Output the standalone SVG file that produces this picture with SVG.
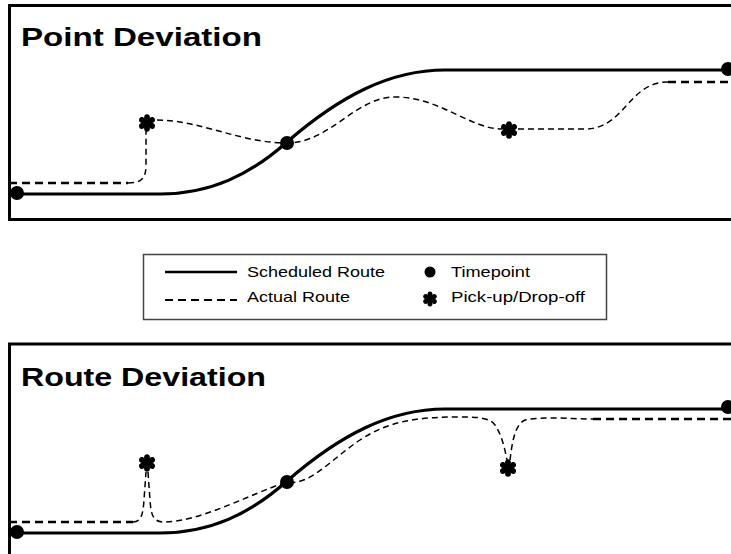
<svg xmlns="http://www.w3.org/2000/svg" width="731" height="554" viewBox="0 0 731 554">
<style>
.frame{fill:none;stroke:#000;stroke-width:3}
.title{font-family:"Liberation Sans",Arial,sans-serif;font-weight:bold;font-size:26px;fill:#000}
.leg{font-family:"Liberation Sans",Arial,sans-serif;font-size:14.5px;fill:#000}
.sched{fill:none;stroke:#000;stroke-width:3.2}
.act{fill:none;stroke:#000;stroke-width:1.5;stroke-dasharray:6 4}
.actb{fill:none;stroke:#000;stroke-width:2.5;stroke-dasharray:8 5}
.tp{fill:#000}
</style>
<defs>
<path id="petal" d="M0,0 C-3.8,-3.5 -4,-8.6 0,-8.8 C4,-8.6 3.8,-3.5 0,0 Z"/>
<g id="star">
<use href="#petal"/>
<use href="#petal" transform="rotate(60)"/>
<use href="#petal" transform="rotate(120)"/>
<use href="#petal" transform="rotate(180)"/>
<use href="#petal" transform="rotate(240)"/>
<use href="#petal" transform="rotate(300)"/>
<circle r="1.8"/>
</g>
</defs>
<rect width="731" height="554" fill="#fff"/>

<g id="point-deviation">
<rect class="frame" x="9.5" y="5.5" width="740" height="214"/>
<text class="title" x="21" y="46" textLength="241" lengthAdjust="spacingAndGlyphs">Point Deviation</text>
</g>
<g id="route-deviation">
<rect class="frame" x="9.5" y="344" width="740" height="260"/>
<text class="title" x="21" y="386" textLength="245" lengthAdjust="spacingAndGlyphs">Route Deviation</text>
</g>

<g id="connectors">
<!-- top panel -->
<path class="sched" d="M17,194 H160 C210,194 250,175 287,142 C340,96 390,70 445,70 H728"/>
<path class="actb" d="M9,183 H128"/>
<path class="act" d="M128,183 C142,183 146,178 146,165 V130"/>
<path class="act" d="M157,120 C200,120 240,143 287,143 C330,143 355,97 395,97 C440,97 470,129 502,129"/>
<path class="act" d="M518,129 H585 C625,129 628,82 668,82"/>
<path class="actb" d="M668,82 H731"/>
<!-- bottom panel -->
<path class="sched" d="M17,533 H160 C210,533 250,514 287,481 C340,435 390,409 445,409 H728"/>
<path class="actb" d="M9,522 H133"/>
<path class="act" d="M133,522 C141,522 143,515 144,500 L146,472"/>
<path class="act" d="M148,472 L150,500 C151,515 153,522 164,522 C200,522 250,494 287,482 C310,486 330,460 360,440 C390,420 420,417 460,417 C480,417 490,418 495,425 C502,435 505,450 507,460"/>
<path class="act" d="M510,460 C512,445 514,425 525,420 C545,416 570,419 593,419"/>
<path class="actb" d="M593,419 H731"/>
</g>

<g id="timepoints">
<circle class="tp" cx="17" cy="193" r="7"/>
<circle class="tp" cx="287" cy="143" r="7"/>
<circle class="tp" cx="728" cy="69" r="7"/>
<circle class="tp" cx="17" cy="532" r="7"/>
<circle class="tp" cx="287" cy="482" r="7"/>
<circle class="tp" cx="728" cy="407" r="7"/>
</g>
<g id="pickups">
<use href="#star" x="147" y="123"/>
<use href="#star" x="509" y="130"/>
<use href="#star" x="147" y="463"/>
<use href="#star" x="508" y="468"/>
</g>

<g id="legend">
<rect x="143.5" y="254.5" width="463" height="65" fill="#fff" stroke="#444" stroke-width="1.5"/>
<line x1="165" y1="272" x2="237" y2="272" stroke="#000" stroke-width="2.5"/>
<line x1="165" y1="300" x2="237" y2="300" stroke="#000" stroke-width="2" stroke-dasharray="8 5"/>
<text class="leg" x="247" y="277" textLength="138" lengthAdjust="spacingAndGlyphs">Scheduled Route</text>
<text class="leg" x="247" y="302" textLength="103" lengthAdjust="spacingAndGlyphs">Actual Route</text>
<circle class="tp" cx="430" cy="272" r="5.5"/>
<use href="#star" transform="translate(430 299) scale(0.85)"/>
<text class="leg" x="451" y="277" textLength="79" lengthAdjust="spacingAndGlyphs">Timepoint</text>
<text class="leg" x="451" y="302" textLength="134" lengthAdjust="spacingAndGlyphs">Pick-up/Drop-off</text>
</g>
</svg>
